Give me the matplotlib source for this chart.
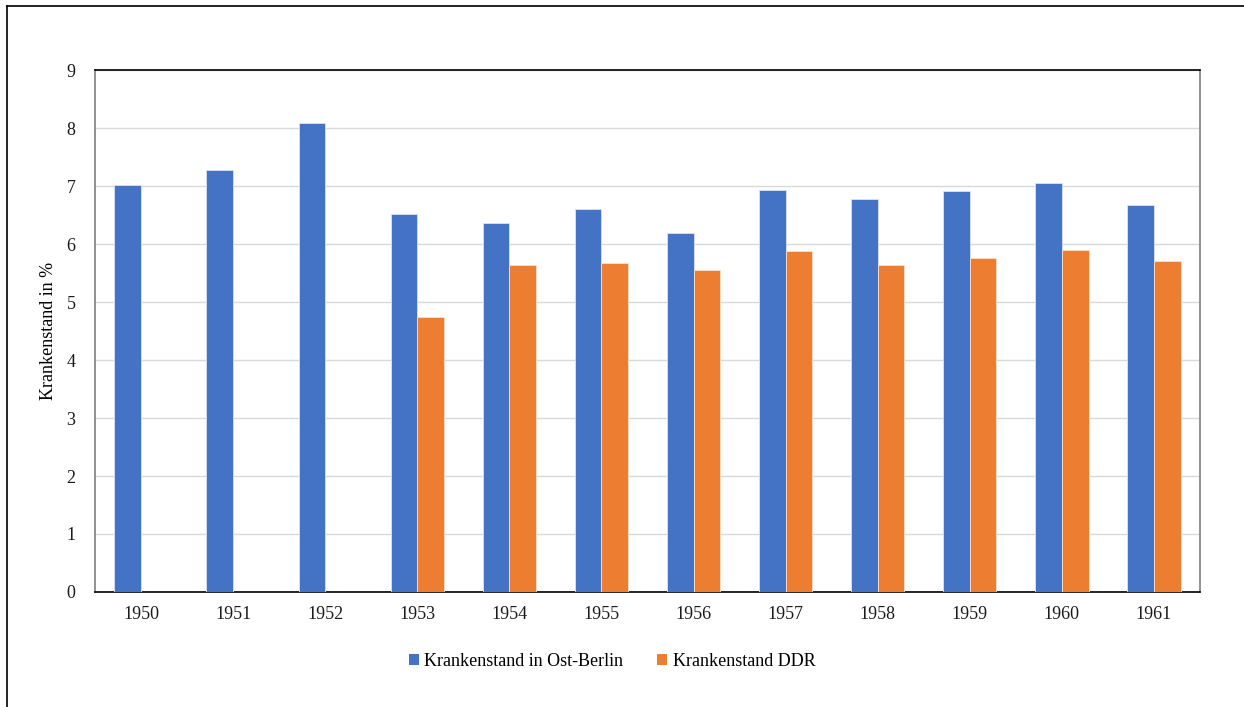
import matplotlib
matplotlib.use("Agg")
import matplotlib.pyplot as plt
from matplotlib.lines import Line2D
from matplotlib.patches import Patch
import numpy as np

years = ["1950", "1951", "1952", "1953", "1954", "1955", "1956",
         "1957", "1958", "1959", "1960", "1961"]
ost_berlin = [7.02, 7.27, 8.08, 6.51, 6.37, 6.60, 6.19, 6.93, 6.78, 6.92, 7.05, 6.68]
ddr = [np.nan, np.nan, np.nan, 4.75, 5.63, 5.68, 5.55, 5.88, 5.63, 5.76, 5.90, 5.71]
series_names = ["Krankenstand in Ost-Berlin", "Krankenstand DDR"]
y_ticks = list(range(0, 10))

blue = "#4472C4"
orange = "#ED7D31"

plt.rcParams["font.family"] = ["Liberation Serif", "DejaVu Serif"]

fig = plt.figure(figsize=(12.44, 7.07), dpi=100)
W, H = 1244, 707
ax = fig.add_axes([95 / W, 1 - 592 / H, (1200 - 95) / W, (592 - 70) / H])

x = np.arange(len(years))
bw = 0.29
ax.bar(x - bw / 2, ost_berlin, bw, color=blue, edgecolor="#dae3f3", linewidth=0.6, zorder=3)
ax.bar(x + bw / 2, ddr, bw, color=orange, edgecolor="#fbe0cf", linewidth=0.6, zorder=3)

ax.set_xlim(-0.5, len(years) - 0.5)
ax.set_ylim(0, 9)
ax.set_yticks(y_ticks)
ax.set_xticks(x)
ax.set_xticklabels(years)
ax.tick_params(axis="both", length=0, labelsize=13, colors="#1a1a1a")
ax.tick_params(axis="x", pad=10)
ax.tick_params(axis="y", pad=14)
ax.yaxis.grid(True, color="#d9d9d9", linewidth=1.0, zorder=0)
ax.set_axisbelow(True)

ax.spines["top"].set_color("black")
ax.spines["bottom"].set_color("black")
ax.spines["left"].set_color("#7f7f7f")
ax.spines["right"].set_color("#7f7f7f")
for s in ax.spines.values():
    s.set_linewidth(1.2)

ax.set_ylabel("Krankenstand in %", fontsize=13)
ax.yaxis.set_label_coords(-0.034, 0.5)

handles = [Patch(facecolor=blue), Patch(facecolor=orange)]
fig.legend(handles, series_names, loc="center", bbox_to_anchor=(612 / W, 1 - 661 / H),
           ncol=2, frameon=False, fontsize=13, handlelength=0.55, handleheight=0.55,
           handletextpad=0.3, columnspacing=1.9)

# outer chart border (top and left edges)
fig.add_artist(Line2D([7 / W, 1.0], [1 - 6 / H, 1 - 6 / H], color="black", linewidth=1.2,
                      transform=fig.transFigure))
fig.add_artist(Line2D([7 / W, 7 / W], [1 - 6 / H, 0], color="black", linewidth=1.2,
                      transform=fig.transFigure))

fig.savefig("out.png", dpi=100, facecolor="white")
